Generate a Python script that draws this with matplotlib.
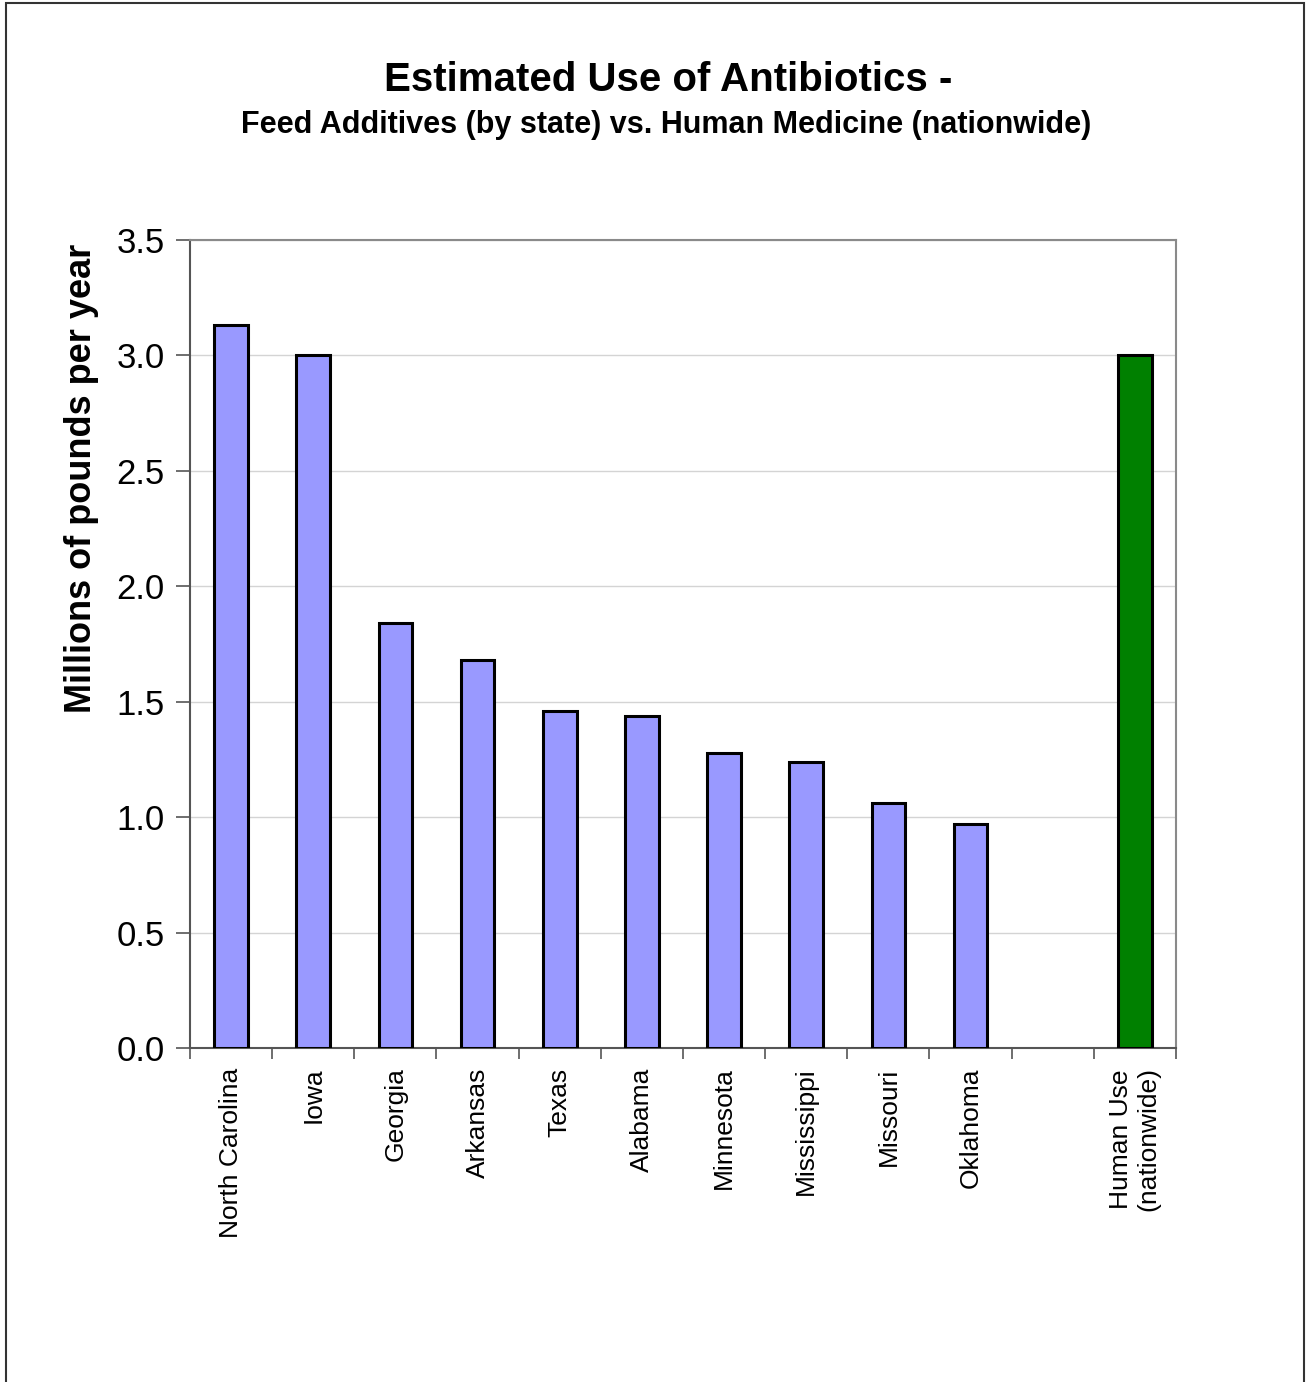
import matplotlib
matplotlib.use("Agg")
import matplotlib.pyplot as plt
from matplotlib.patches import Rectangle
import numpy as np

plt.rcParams['font.family'] = ['Liberation Sans', 'DejaVu Sans']

# Estimated antibiotic feed-additive use by state (millions of lb per year)
states = ["North Carolina", "Iowa", "Georgia", "Arkansas", "Texas", "Alabama",
          "Minnesota", "Mississippi", "Missouri", "Oklahoma"]
state_use = [3.13, 3.0, 1.84, 1.68, 1.46, 1.44, 1.28, 1.24, 1.06, 0.97]

# Nationwide human medicine use
human_label = "Human Use\n(nationwide)"
human_use = 3.0

y_ticks = [0.0, 0.5, 1.0, 1.5, 2.0, 2.5, 3.0, 3.5]

W, H = 1312, 1382
fig = plt.figure(figsize=(W / 100, H / 100), dpi=100)
fig.patch.set_facecolor("white")

# outer frame
fig.patches.append(Rectangle((6 / W, -0.01), (1304 - 6) / W, 1 - 3 / H + 0.01,
                             transform=fig.transFigure, fill=False,
                             edgecolor="#333333", linewidth=1.5, zorder=0))

ax = fig.add_axes([190 / W, 1 - 1048 / H, (1176 - 190) / W, (1048 - 240) / H])

x_states = np.arange(len(states))
x_human = len(states) + 1
bar_w = 0.41

ax.bar(x_states, state_use, width=bar_w, color="#9999FF",
       edgecolor="black", linewidth=2.2, zorder=3)
ax.bar([x_human], [human_use], width=bar_w, color="#008000",
       edgecolor="black", linewidth=2.2, zorder=3)

ax.set_xlim(-0.5, x_human + 0.5)
ax.set_ylim(0, 3.5)

# category labels centred under bars, tick marks on category boundaries
ax.set_xticks(list(x_states) + [x_human])
ax.set_xticklabels(states + [human_label], rotation=90, fontsize=19,
                   va="top", ha="center")
ax.tick_params(axis="x", which="major", length=0, pad=14)
ax.set_xticks(np.arange(-0.5, x_human + 1.0, 1.0), minor=True)
ax.tick_params(axis="x", which="minor", length=8, width=1.2, color="#555555",
               direction="out")

ax.set_yticks(y_ticks)
ax.set_yticklabels([f"{v:.1f}" for v in y_ticks], fontsize=25)
ax.tick_params(axis="y", length=10, width=1.2, color="#555555", pad=8)

ax.yaxis.grid(True, color="#d4d4d4", linewidth=1.0, zorder=0)
ax.set_axisbelow(True)

for side in ["top", "right"]:
    ax.spines[side].set_color("#8a8a8a")
    ax.spines[side].set_linewidth(1.5)
for side in ["left", "bottom"]:
    ax.spines[side].set_color("#555555")
    ax.spines[side].set_linewidth(1.5)

fig.text(82 / W, 1 - 478 / H, "Millions of pounds per year", fontsize=26,
         fontweight="bold", rotation=90, ha="center", va="center")

fig.text(668 / W, 1 - 80 / H, "Estimated Use of Antibiotics -", fontsize=29,
         fontweight="bold", ha="center", va="center")
fig.text(666 / W, 1 - 125 / H,
         "Feed Additives (by state) vs. Human Medicine (nationwide)",
         fontsize=22, fontweight="bold", ha="center", va="center")

fig.savefig("out.png", dpi=100, facecolor="white")
